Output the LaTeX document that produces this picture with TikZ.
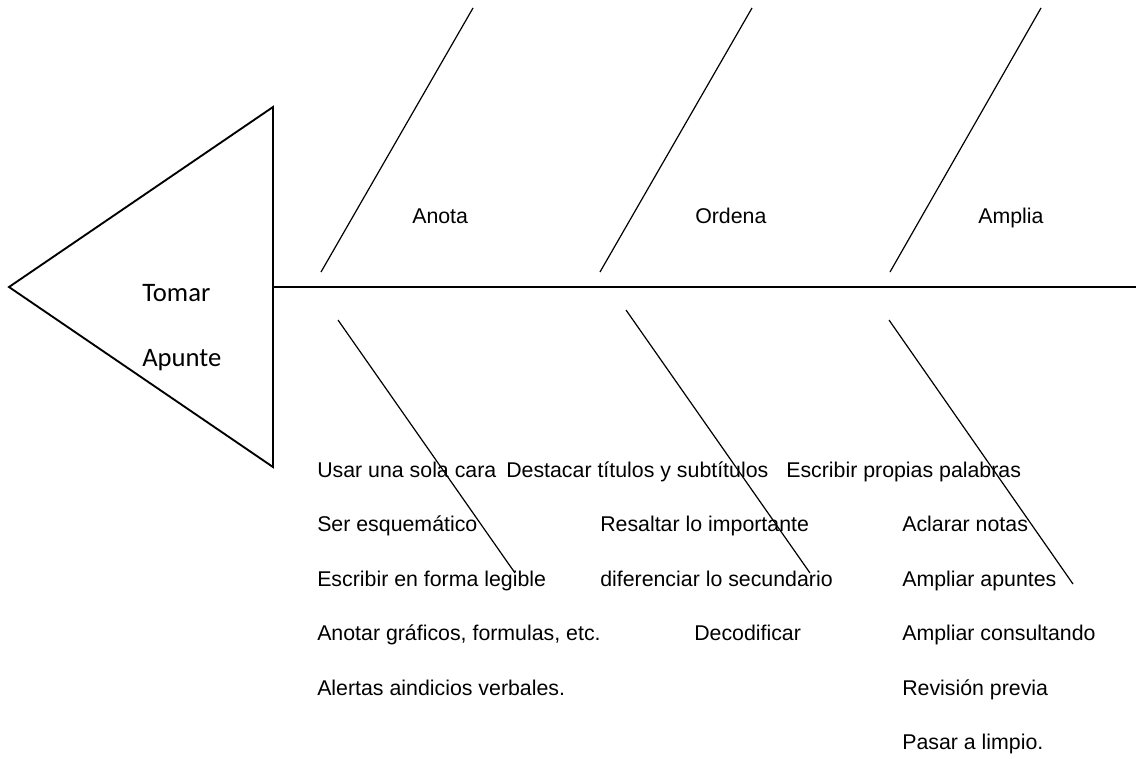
\documentclass[tikz,border=0pt]{standalone}
\usepackage{fontspec}
\setmainfont{Liberation Sans}
\newfontfamily\calibrifont{Carlito}
\usepackage{tikz}

\tikzset{
  item/.style={anchor=base west,inner sep=0pt,font=\fontsize{16}{19}\selectfont},
  headtext/.style={anchor=base west,inner sep=0pt,font=\calibrifont\fontsize{20}{24}\selectfont},
  bone/.style={line width=0.9pt},
  spine/.style={line width=1.4pt}
}

\begin{document}
\begin{tikzpicture}[x=0.75pt,y=0.75pt,yscale=-1,xscale=1]
\path[use as bounding box] (0,0) rectangle (1136,758);

%Shape: Triangle (head)
\coordinate (tip) at (9,287);
\coordinate (htop) at (273,107);
\coordinate (hbot) at (273,467);
\draw [spine, line join=miter] (tip) -- (htop) -- (hbot) -- cycle ;
%Straight Lines (spine)
\coordinate (tail) at (1136,287);
\draw [spine] (273,287) -- (tail) ;

%Straight Lines (upper bones)
\coordinate (anotaA) at (321,272);  \coordinate (anotaB) at (473,8);
\coordinate (ordenaA) at (600,272); \coordinate (ordenaB) at (752,8);
\coordinate (ampliaA) at (890,272); \coordinate (ampliaB) at (1041,8);
\draw [bone] (anotaA) -- (anotaB) ;
\draw [bone] (ordenaA) -- (ordenaB) ;
\draw [bone] (ampliaA) -- (ampliaB) ;

%Straight Lines (lower bones)
\coordinate (anotaC) at (338,320);  \coordinate (anotaD) at (515,573);
\coordinate (ordenaC) at (626,310); \coordinate (ordenaD) at (810,573);
\coordinate (ampliaC) at (889,320); \coordinate (ampliaD) at (1073,584);
\draw [bone] (anotaC) -- (anotaD) ;
\draw [bone] (ordenaC) -- (ordenaD) ;
\draw [bone] (ampliaC) -- (ampliaD) ;

% Text Node
\draw (142,301) node (tomar) [headtext] {Tomar};
% Text Node
\draw (142,366) node (apunte) [headtext] {Apunte};

% Text Node
\draw (412,223) node (anota) [item] {Anota};
% Text Node
\draw (695,223) node (ordena) [item] {Ordena};
% Text Node
\draw (978,223) node (amplia) [item] {Amplia};

% Text Node
\draw (317,477) node (usar) [item] {Usar una sola cara};
% Text Node
\draw (317,531) node (ser) [item] {Ser esquemático};
% Text Node
\draw (317,586) node (legible) [item] {Escribir en forma legible};
% Text Node
\draw (317,640) node (graficos) [item] {Anotar gráficos, formulas, etc.};
% Text Node
\draw (317,695) node (alertas) [item] {Alertas aindicios verbales.};

% Text Node
\draw (506,477) node (destacar) [item] {Destacar títulos y subtítulos};
% Text Node
\draw (600,531) node (resaltar) [item] {Resaltar lo importante};
% Text Node
\draw (600,586) node (diferenciar) [item] {diferenciar lo secundario};
% Text Node
\draw (694,640) node (decodificar) [item] {Decodificar};

% Text Node
\draw (786,477) node (palabras) [item] {Escribir propias palabras};
% Text Node
\draw (902,531) node (aclarar) [item] {Aclarar notas};
% Text Node
\draw (902,586) node (apuntes) [item] {Ampliar apuntes};
% Text Node
\draw (902,640) node (consultando) [item] {Ampliar consultando};
% Text Node
\draw (902,695) node (revision) [item] {Revisión previa};
% Text Node
\draw (902,749) node (limpio) [item] {Pasar a limpio.};

\end{tikzpicture}
\end{document}
